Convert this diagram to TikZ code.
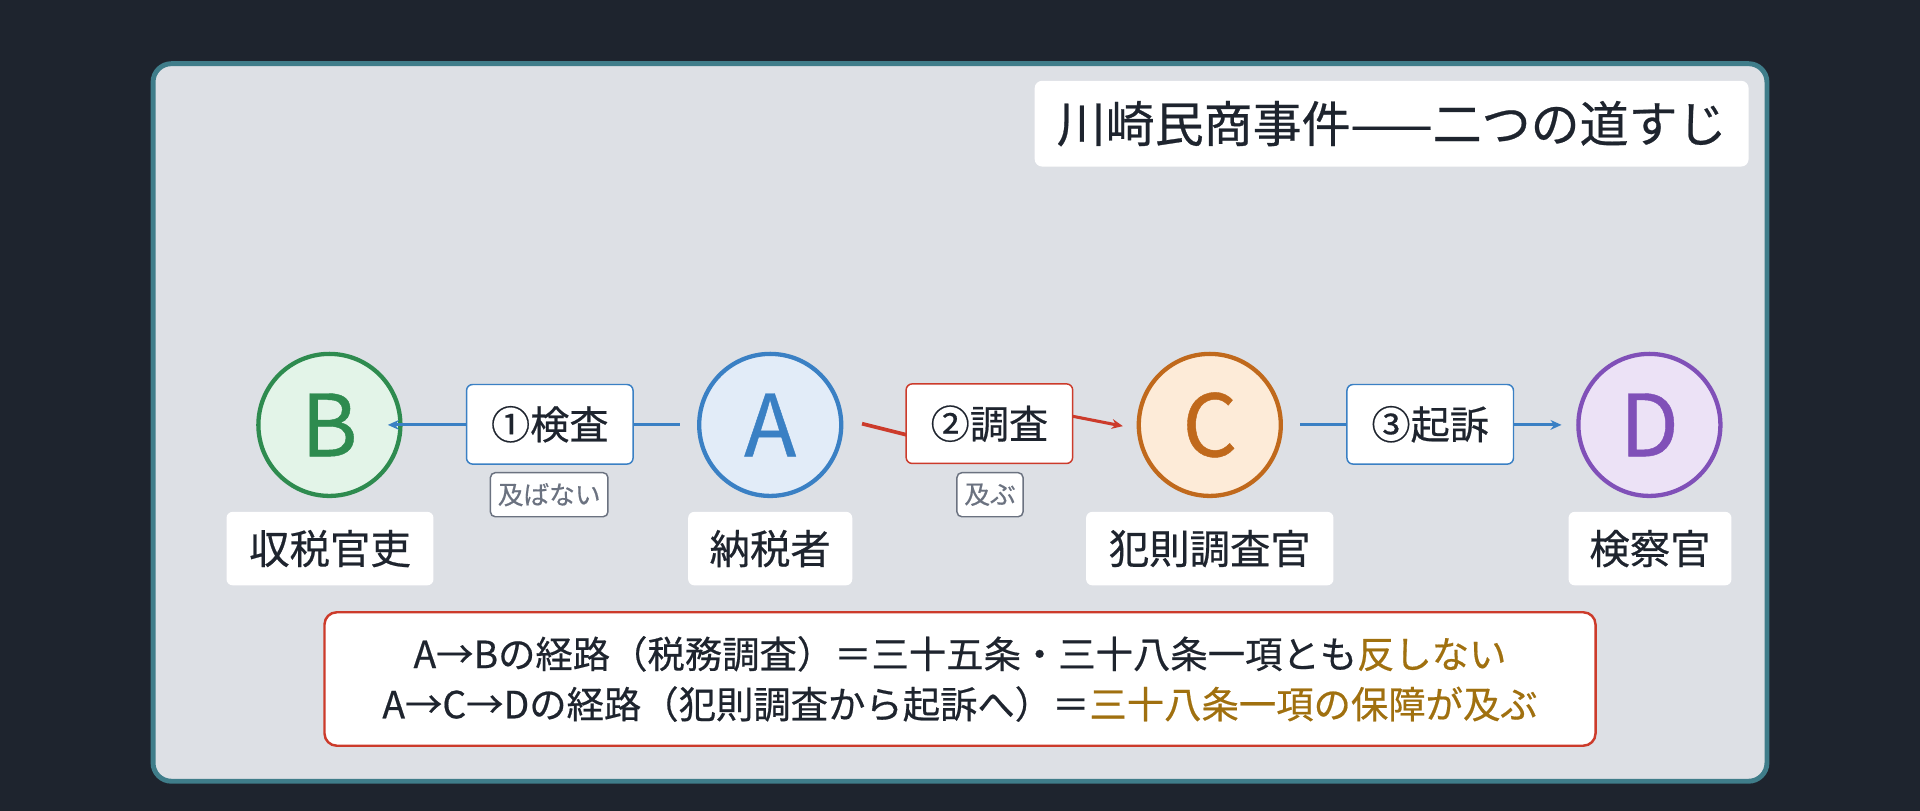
\documentclass[tikz,border=0pt]{standalone}
\usepackage{fontspec}
\setmainfont{Noto Sans CJK JP}[UprightFeatures={FakeBold=0.5}]
\usetikzlibrary{arrows.meta}
\definecolor{bg}{HTML}{1E242E}
\definecolor{panel}{HTML}{DDE0E5}
\definecolor{frame}{HTML}{3F7D8A}
\definecolor{ink}{HTML}{1E242E}
\definecolor{gB}{HTML}{2E8B4F}\definecolor{gBf}{HTML}{E3F4E8}
\definecolor{bA}{HTML}{3A80C4}\definecolor{bAf}{HTML}{E2ECF8}
\definecolor{oC}{HTML}{C0691C}\definecolor{oCf}{HTML}{FDEBD8}
\definecolor{pD}{HTML}{8050B8}\definecolor{pDf}{HTML}{ECE2F6}
\definecolor{rd}{HTML}{CC3B2B}
\definecolor{hl}{HTML}{A0700F}
\definecolor{tagc}{HTML}{6B7280}
\begin{document}
\begin{tikzpicture}[x=1pt,y=-1pt,
  circ/.style={circle,line width=3.5pt,minimum size=116pt,inner sep=0pt,font=\fontsize{70}{74}\selectfont},
  lab/.style={fill=white,rounded corners=5pt,minimum width=#1,minimum height=60pt,inner sep=0pt,font=\fontsize{33}{36}\selectfont,text=ink},
  elab/.style={fill=white,draw=#1,line width=1.2pt,rounded corners=5pt,minimum width=136pt,minimum height=65pt,inner sep=0pt,font=\fontsize{32}{36}\selectfont,text=ink},
  tag/.style={fill=white,draw=tagc,line width=1.2pt,rounded corners=4pt,minimum height=36pt,inner sep=6pt,font=\fontsize{21}{24}\selectfont,text=tagc},
  arr/.style={line width=2.5pt,-{Stealth[length=9pt,width=8pt]}}]
\fill[bg] (0,0) rectangle (1568,662);
\useasboundingbox (0,0) rectangle (1568,662);
\draw[fill=panel,draw=frame,line width=4pt,rounded corners=15pt] (125,52) rectangle (1443,638);
\node[fill=white,rounded corners=6pt,minimum width=583pt,minimum height=70pt,font=\fontsize{40}{44}\selectfont,text=ink] (title) at (1136.5,101) {川崎民商事件——二つの道すじ};
\node[circ,draw=gB,fill=gBf,text=gB] (B) at (269,347) {B};
\node[circ,draw=bA,fill=bAf,text=bA] (A) at (629,347) {A};
\node[circ,draw=oC,fill=oCf,text=oC] (C) at (988,347) {C};
\node[circ,draw=pD,fill=pDf,text=pD] (D) at (1347,347) {D};
\node[lab=169pt] (lB) at (269.5,448) {収税官吏};
\node[lab=134pt] (lA) at (629,448) {納税者};
\node[lab=202pt] (lC) at (988,448) {犯則調査官};
\node[lab=133pt] (lD) at (1347.5,448) {検察官};
\coordinate (a1) at (704,346);
\coordinate (a2) at (800,370);
\coordinate (c1) at (800,325);
\coordinate (c2) at (917,348);
\draw[arr,bA] (A.west) ++(-14,0) -- ([xshift=-12pt]B.east);
\draw[rd,line width=3pt] (a1) -- (a2);
\draw[arr,rd] (c1) -- (c2);
\draw[arr,bA] ([xshift=14pt]C.east) -- ([xshift=-12pt]D.west);
\node[elab=bA] (e1) at (449,346.5) {①検査};
\node[elab=rd] (e2) at (808,346) {②調査};
\node[elab=bA] (e3) at (1168,346.5) {③起訴};
\node[tag] (t1) at (448.5,404) {及ばない};
\node[tag] (t2) at (808.5,404) {及ぶ};
\node[fill=white,draw=rd,line width=2pt,rounded corners=10pt,minimum width=1038pt,minimum height=109pt,align=center,font=\fontsize{30.5}{41}\selectfont,text=ink] (note) at (784,554.5)
{A→Bの経路（税務調査）＝三十五条・三十八条一項とも\textcolor{hl}{反しない}\\A→C→Dの経路（犯則調査から起訴へ）＝\textcolor{hl}{三十八条一項の保障が及ぶ}};
\end{tikzpicture}
\end{document}
